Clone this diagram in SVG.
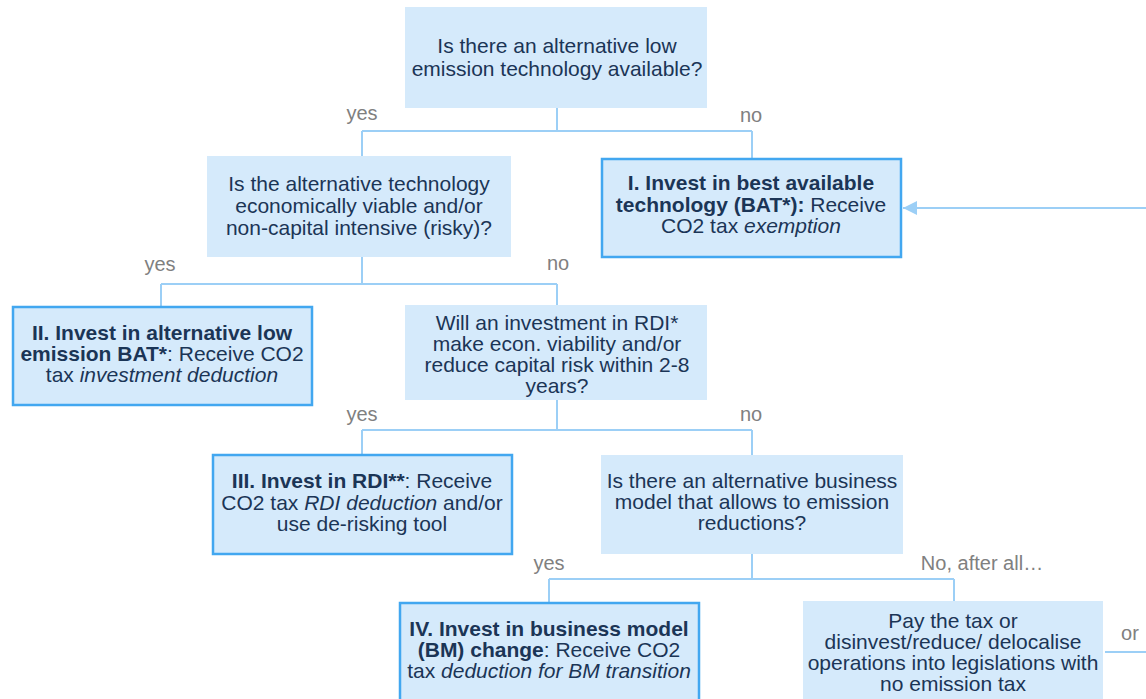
<svg xmlns="http://www.w3.org/2000/svg" width="1146" height="699" viewBox="0 0 1146 699">
<defs>
<style>
.box{fill:#d5eafb;}
.bd{stroke:#42a7f0;stroke-width:2.5;}
.t{font-family:"Liberation Sans",Arial,sans-serif;font-size:21px;fill:#1b3556;text-anchor:middle;}
.b{font-weight:bold;}
.i{font-style:italic;}
.lbl{font-family:"Liberation Sans",Arial,sans-serif;font-size:20px;fill:#808080;text-anchor:middle;}
.c{fill:none;stroke:#9ccff6;stroke-width:2;}
</style>
<marker id="ah" viewBox="0 0 14 14" refX="14" refY="7" markerWidth="14" markerHeight="14" markerUnits="userSpaceOnUse" orient="auto">
<path d="M0,0 L14,7 L0,14 z" fill="#9ccff6"/>
</marker>
</defs>
<g id="connectors">
<path class="c" d="M557,108 V131 M362,131 H752 M362,131 V156 M752,131 V158"/>
<path class="c" d="M362,257 V284 M161,284 H557 M161,284 V306 M557,284 V305"/>
<path class="c" d="M557,400 V430 M362,430 H752 M362,430 V454 M752,430 V455"/>
<path class="c" d="M752,554 V579 M549,579 H954 M549,579 V602 M954,579 V601"/>
<path class="c" d="M1105,652 H1146"/>
<line class="c" x1="1146" y1="208" x2="903" y2="208" marker-end="url(#ah)"/>
</g>
<g id="labels">
<text class="lbl" x="362" y="120">yes</text>
<text class="lbl" x="751" y="122">no</text>
<text class="lbl" x="160" y="271">yes</text>
<text class="lbl" x="558" y="270">no</text>
<text class="lbl" x="362" y="421">yes</text>
<text class="lbl" x="751" y="421">no</text>
<text class="lbl" x="549" y="570">yes</text>
<text class="lbl" x="982" y="570">No, after all…</text>
<text class="lbl" x="1130" y="640">or</text>
</g>
<g id="q1">
<rect class="box" x="405" y="7" width="302" height="101"/>
<text class="t" x="557" y="53">Is there an alternative low</text>
<text class="t" x="557" y="76">emission technology available?</text>
</g>
<g id="q2">
<rect class="box" x="207" y="156" width="304" height="101"/>
<text class="t" x="359" y="191">Is the alternative technology</text>
<text class="t" x="359" y="213">economically viable and/or</text>
<text class="t" x="359" y="235">non-capital intensive (risky)?</text>
</g>
<g id="n1">
<rect class="box bd" x="602" y="159" width="299" height="98"/>
<text class="t" x="751" y="190"><tspan class="b">I. Invest in best available</tspan></text>
<text class="t" x="751" y="212"><tspan class="b">technology (BAT*):</tspan> Receive</text>
<text class="t" x="751" y="233">CO2 tax <tspan class="i">exemption</tspan></text>
</g>
<g id="n2">
<rect class="box bd" x="13" y="307" width="299" height="98"/>
<text class="t" x="162" y="340"><tspan class="b">II. Invest in alternative low</tspan></text>
<text class="t" x="162" y="361"><tspan class="b">emission BAT*</tspan>: Receive CO2</text>
<text class="t" x="162" y="382">tax <tspan class="i">investment deduction</tspan></text>
</g>
<g id="q3">
<rect class="box" x="405" y="305" width="302" height="95"/>
<text class="t" x="557" y="330">Will an investment in RDI*</text>
<text class="t" x="557" y="351">make econ. viability and/or</text>
<text class="t" x="557" y="372">reduce capital risk within 2-8</text>
<text class="t" x="557" y="393">years?</text>
</g>
<g id="n3">
<rect class="box bd" x="213" y="455" width="299" height="99"/>
<text class="t" x="362" y="488"><tspan class="b">III. Invest in RDI**</tspan>: Receive</text>
<text class="t" x="362" y="510">CO2 tax <tspan class="i">RDI deduction</tspan> and/or</text>
<text class="t" x="362" y="531">use de-risking tool</text>
</g>
<g id="q4">
<rect class="box" x="601" y="455" width="302" height="99"/>
<text class="t" x="752" y="488">Is there an alternative business</text>
<text class="t" x="752" y="509">model that allows to emission</text>
<text class="t" x="752" y="530">reductions?</text>
</g>
<g id="n4">
<rect class="box bd" x="400" y="603" width="299" height="100"/>
<text class="t" x="549" y="636"><tspan class="b">IV. Invest in business model</tspan></text>
<text class="t" x="549" y="657"><tspan class="b">(BM) change</tspan>: Receive CO2</text>
<text class="t" x="549" y="678">tax <tspan class="i">deduction for BM transition</tspan></text>
</g>
<g id="n5">
<rect class="box" x="803" y="601" width="300" height="98"/>
<text class="t" x="953" y="628">Pay the tax or</text>
<text class="t" x="953" y="649">disinvest/reduce/ delocalise</text>
<text class="t" x="953" y="670">operations into legislations with</text>
<text class="t" x="953" y="691">no emission tax</text>
</g>
</svg>
